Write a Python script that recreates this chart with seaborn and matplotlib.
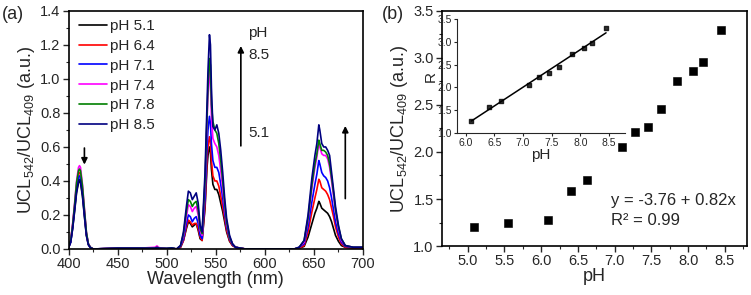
import numpy as np
import pandas as pd
import matplotlib
matplotlib.use("Agg")
import matplotlib.pyplot as plt
import seaborn as sns
from matplotlib.ticker import MultipleLocator

# ---- panel (a): emission spectra ----
wavelength = [400, 402, 404, 406, 408, 410, 411, 412, 414, 416, 418, 420, 422, 425, 450, 470, 488, 490, 492, 500, 505,
              510, 514, 517, 520, 522, 524, 526, 528, 530, 532, 534, 536, 539, 541, 542, 543.5, 544.5, 545.5, 547, 549,
              551, 553, 555, 557, 559, 561, 564, 567, 570, 575, 580, 600, 630,
              635, 640, 644, 648, 651, 653, 655, 656, 658, 660, 662, 664, 666, 668, 670, 672, 675, 678, 682, 690, 700]

ph_labels = ["pH 5.1", "pH 6.4", "pH 7.1", "pH 7.4", "pH 7.8", "pH 8.5"]
line_colors = ["#000000", "#ff0000", "#0000ff", "#ff00ff", "#008000", "#000080"]

ucl_51 = [0.01, 0.04, 0.12, 0.22, 0.33, 0.39, 0.40, 0.39, 0.31, 0.19, 0.08, 0.025, 0.008, 0.0, 0.004, 0.004, 0.005, 0.008, 0.004, 0.002, 0.004,
          0.0, 0.01, 0.05, 0.12, 0.16, 0.15, 0.13, 0.14, 0.15, 0.11, 0.06, 0.05, 0.24, 0.48, 0.55, 0.60, 0.57, 0.47, 0.38, 0.35,
          0.35, 0.32, 0.27, 0.22, 0.16, 0.10, 0.045, 0.02, 0.01, 0.005, 0.0, 0.0, 0.0,
          0.005, 0.015, 0.07, 0.15, 0.21, 0.24, 0.28, 0.27, 0.24, 0.23, 0.22, 0.21, 0.19, 0.16, 0.12, 0.08, 0.045, 0.02, 0.01, 0.005, 0.005]
ucl_64 = [0.01, 0.05, 0.14, 0.25, 0.37, 0.44, 0.45, 0.44, 0.35, 0.22, 0.09, 0.03, 0.01, 0.0, 0.004, 0.004, 0.006, 0.01, 0.005, 0.002, 0.004,
          0.0, 0.01, 0.05, 0.13, 0.17, 0.16, 0.14, 0.15, 0.15, 0.12, 0.07, 0.05, 0.26, 0.52, 0.60, 0.66, 0.63, 0.52, 0.43, 0.40,
          0.40, 0.37, 0.31, 0.25, 0.18, 0.11, 0.05, 0.02, 0.01, 0.005, 0.0, 0.0, 0.0,
          0.005, 0.02, 0.10, 0.22, 0.30, 0.35, 0.41, 0.40, 0.36, 0.35, 0.34, 0.32, 0.29, 0.24, 0.19, 0.13, 0.07, 0.03, 0.01, 0.005, 0.005]
ucl_71 = [0.01, 0.04, 0.13, 0.24, 0.35, 0.42, 0.43, 0.42, 0.34, 0.21, 0.09, 0.03, 0.01, 0.0, 0.005, 0.005, 0.005, 0.01, 0.005, 0.003, 0.005,
          0.0, 0.015, 0.06, 0.15, 0.20, 0.19, 0.16, 0.18, 0.19, 0.15, 0.08, 0.06, 0.30, 0.60, 0.70, 0.78, 0.74, 0.62, 0.52, 0.48,
          0.48, 0.45, 0.38, 0.30, 0.21, 0.13, 0.06, 0.025, 0.01, 0.005, 0.0, 0.0, 0.0,
          0.01, 0.03, 0.13, 0.28, 0.38, 0.44, 0.52, 0.50, 0.45, 0.43, 0.42, 0.40, 0.36, 0.30, 0.23, 0.16, 0.09, 0.04, 0.015, 0.01, 0.01]
ucl_74 = [0.02, 0.05, 0.15, 0.27, 0.40, 0.48, 0.49, 0.48, 0.38, 0.24, 0.10, 0.03, 0.01, 0.0, 0.004, 0.004, 0.01, 0.018, 0.008, 0.002, 0.004,
          0.0, 0.02, 0.08, 0.19, 0.26, 0.25, 0.22, 0.24, 0.25, 0.20, 0.11, 0.08, 0.38, 0.75, 0.90, 1.05, 0.98, 0.78, 0.65, 0.62,
          0.60, 0.55, 0.46, 0.36, 0.25, 0.15, 0.07, 0.03, 0.01, 0.005, 0.0, 0.0, 0.0,
          0.01, 0.04, 0.17, 0.36, 0.48, 0.54, 0.62, 0.60, 0.56, 0.55, 0.55, 0.53, 0.48, 0.40, 0.31, 0.22, 0.12, 0.05, 0.02, 0.01, 0.01]
ucl_78 = [0.02, 0.05, 0.14, 0.26, 0.39, 0.46, 0.47, 0.46, 0.37, 0.23, 0.10, 0.03, 0.01, 0.0, 0.004, 0.004, 0.005, 0.01, 0.005, 0.003, 0.006,
          0.0, 0.02, 0.09, 0.22, 0.29, 0.28, 0.25, 0.27, 0.28, 0.23, 0.12, 0.09, 0.40, 0.78, 0.95, 1.12, 1.08, 0.85, 0.75, 0.70,
          0.68, 0.62, 0.52, 0.40, 0.27, 0.16, 0.07, 0.03, 0.01, 0.005, 0.0, 0.0, 0.0,
          0.01, 0.05, 0.18, 0.38, 0.50, 0.56, 0.64, 0.62, 0.58, 0.58, 0.57, 0.55, 0.50, 0.42, 0.33, 0.23, 0.13, 0.06, 0.02, 0.01, 0.01]
ucl_85 = [0.01, 0.04, 0.12, 0.23, 0.34, 0.40, 0.41, 0.40, 0.32, 0.20, 0.08, 0.025, 0.008, 0.0, 0.005, 0.005, 0.005, 0.008, 0.005, 0.003, 0.006,
          0.0, 0.02, 0.10, 0.25, 0.34, 0.33, 0.29, 0.31, 0.33, 0.27, 0.14, 0.10, 0.45, 0.85, 1.05, 1.26, 1.20, 0.95, 0.72, 0.70,
          0.73, 0.68, 0.58, 0.45, 0.30, 0.18, 0.08, 0.03, 0.01, 0.005, 0.0, 0.0, 0.0,
          0.01, 0.05, 0.20, 0.42, 0.55, 0.62, 0.73, 0.70, 0.62, 0.60, 0.60, 0.58, 0.55, 0.45, 0.35, 0.25, 0.14, 0.06, 0.02, 0.01, 0.01]

# ---- panel (b): ratio vs pH ----
ph_main = [5.08, 5.55, 6.10, 6.40, 6.62, 7.10, 7.28, 7.45, 7.63, 7.85, 8.07, 8.20, 8.45]
ratio_main = [1.20, 1.25, 1.28, 1.58, 1.70, 2.05, 2.21, 2.27, 2.46, 2.75, 2.86, 2.96, 3.30]

ph_inset = [6.10, 6.40, 6.62, 7.10, 7.28, 7.45, 7.63, 7.85, 8.07, 8.20, 8.45]
ratio_inset = [1.27, 1.57, 1.70, 2.05, 2.24, 2.32, 2.46, 2.74, 2.86, 2.97, 3.30]

sns.set_theme(style="ticks")
plt.rcParams['font.family'] = ['Liberation Sans', 'DejaVu Sans']
plt.rcParams['mathtext.fontset'] = 'custom'
plt.rcParams['mathtext.rm'] = 'Liberation Sans'
plt.rcParams['mathtext.it'] = 'Liberation Sans'

fig = plt.figure(figsize=(7.51, 2.95), dpi=100)
ax1 = fig.add_axes([0.0915, 0.156, 0.3918, 0.807])
ax2 = fig.add_axes([0.5885, 0.166, 0.406, 0.797])
ax3 = fig.add_axes([0.6085, 0.549, 0.2237, 0.386])

# spectra
spec = pd.concat([pd.DataFrame({"wavelength": wavelength, "ucl": vals, "pH": lab})
                  for lab, vals in zip(ph_labels, [ucl_51, ucl_64, ucl_71, ucl_74, ucl_78, ucl_85])])
sns.lineplot(data=spec, x="wavelength", y="ucl", hue="pH", palette=line_colors, linewidth=1.2,
             estimator=None, ax=ax1)
ax1.set_xlim(400, 700)
ax1.set_ylim(0, 1.4)
ax1.xaxis.set_major_locator(MultipleLocator(50))
ax1.xaxis.set_minor_locator(MultipleLocator(25))
ax1.yaxis.set_major_locator(MultipleLocator(0.2))
ax1.yaxis.set_minor_locator(MultipleLocator(0.1))
ax1.set_xlabel("Wavelength (nm)", fontsize=13, labelpad=0)
ax1.set_ylabel(r"UCL$_{542}$/UCL$_{409}$ (a.u.)", fontsize=13, labelpad=2)
ax1.legend(loc="upper left", frameon=False, fontsize=11, handlelength=1.8, handletextpad=0.2,
           labelspacing=0.38, borderaxespad=0.3, bbox_to_anchor=(0.0, 1.01))
arrow = dict(arrowstyle="-|>", color="black", lw=1.2, mutation_scale=9)
ax1.annotate("", xy=(416, 0.48), xytext=(416, 0.61), arrowprops=arrow)
ax1.annotate("", xy=(575.5, 1.21), xytext=(575.5, 0.59), arrowprops=arrow)
ax1.annotate("", xy=(682, 0.74), xytext=(682, 0.28), arrowprops=arrow)
ax1.text(583, 1.27, "pH", fontsize=11, va="center")
ax1.text(583, 1.14, "8.5", fontsize=11, va="center")
ax1.text(583, 0.68, "5.1", fontsize=11, va="center")

# ratio scatter
sns.scatterplot(x=ph_main, y=ratio_main, marker="s", s=26, color="black", edgecolor="black", ax=ax2)
ax2.set_xlim(4.65, 8.8)
ax2.set_ylim(1.0, 3.5)
ax2.xaxis.set_major_locator(MultipleLocator(0.5))
ax2.xaxis.set_minor_locator(MultipleLocator(0.25))
ax2.yaxis.set_major_locator(MultipleLocator(0.5))
ax2.yaxis.set_minor_locator(MultipleLocator(0.25))
ax2.set_xlabel("pH", fontsize=13, labelpad=0)
ax2.set_ylabel(r"UCL$_{542}$/UCL$_{409}$ (a.u.)", fontsize=13, labelpad=2)
ax2.text(6.95, 1.48, "y = -3.76 + 0.82x", fontsize=12, va="center")
ax2.text(6.95, 1.27, "R² = 0.99", fontsize=12, va="center")

# inset with linear fit
sns.regplot(x=ph_inset, y=ratio_inset, ci=None, marker="s", color="black",
            scatter_kws={"s": 5}, line_kws={"lw": 1.1}, ax=ax3)
ax3.set_xlim(5.85, 8.78)
ax3.set_ylim(1.0, 3.5)
ax3.xaxis.set_major_locator(MultipleLocator(0.5))
ax3.yaxis.set_major_locator(MultipleLocator(0.5))
ax3.tick_params(labelsize=7.5, length=2.5, width=0.8, pad=1)
ax3.set_xlabel("pH", fontsize=11, labelpad=0)
ax3.set_ylabel("R", fontsize=11, labelpad=0)
ax3.patch.set_alpha(0)
for s in ["top", "right"]:
    ax3.spines[s].set_visible(False)
for s in ["left", "bottom"]:
    ax3.spines[s].set_linewidth(0.8)

for ax in (ax1, ax2):
    for s in ax.spines.values():
        s.set_visible(True)
        s.set_linewidth(1.2)
        s.set_color("black")
    ax.tick_params(which="major", direction="out", length=4, width=1, labelsize=10.5, pad=2,
                   top=False, right=False)
    ax.tick_params(which="minor", direction="out", length=2, width=0.8, top=False, right=False)

fig.text(0.003, 0.95, "(a)", fontsize=13, va="center")
fig.text(0.508, 0.95, "(b)", fontsize=13, va="center")

fig.savefig("out.png", dpi=100)
